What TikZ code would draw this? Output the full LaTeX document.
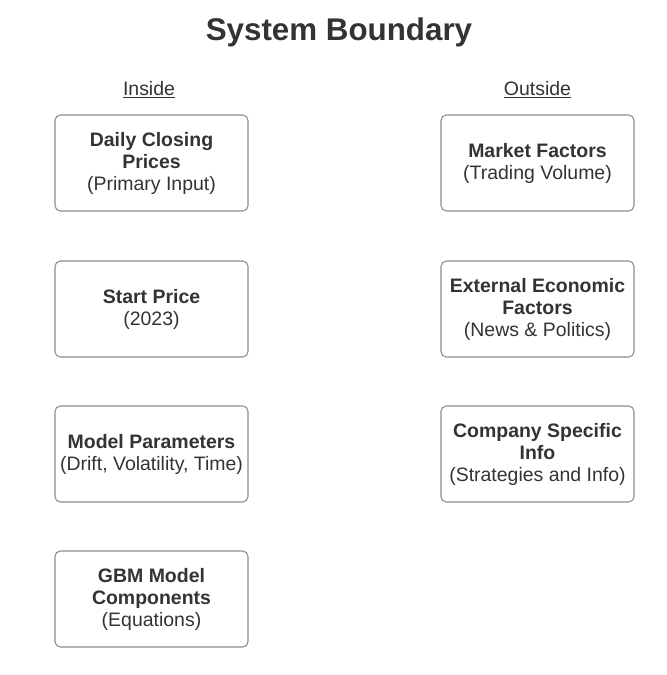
\documentclass[tikz,border=0pt]{standalone}
\usepackage{fontspec}
\setmainfont{Liberation Sans}
\usepackage{tikz}
\definecolor{ink}{HTML}{333333}
\definecolor{rim}{HTML}{8C8C8C}

\begin{document}
\begin{tikzpicture}[x=0.75pt, y=-0.75pt,
  box/.style={draw=rim, line width=0.8pt, rounded corners=4pt, text=ink,
    minimum width=144.75pt, minimum height=72pt, align=center,
    font=\fontsize{14.6}{16.5}\selectfont},
  head/.style={text=ink, font=\fontsize{14.6}{16.5}\selectfont}]
\useasboundingbox (0, 0) rectangle (667, 675);

\node[text=ink, font=\fontsize{23.5}{28}\selectfont\bfseries] (title) at (339, 32) {System Boundary};
\node[head] (inside) at (149, 90) {\underline{Inside}};
\node[head] (outside) at (537.5, 90) {\underline{Outside}};

\node[box] (closing) at (151.5, 163) {\textbf{Daily Closing}\\\textbf{Prices}\\(Primary Input)};
\node[box] (start) at (151.5, 309) {\textbf{Start Price}\\(2023)};
\node[box] (params) at (151.5, 454) {\textbf{Model Parameters}\\(Drift, Volatility, Time)};
\node[box] (gbm) at (151.5, 599) {\textbf{GBM Model}\\\textbf{Components}\\(Equations)};

\node[box] (market) at (537.5, 163) {\textbf{Market Factors}\\(Trading Volume)};
\node[box] (economic) at (537.5, 309) {\textbf{External Economic}\\\textbf{Factors}\\(News \& Politics)};
\node[box] (company) at (537.5, 454) {\textbf{Company Specific}\\\textbf{Info}\\(Strategies and Info)};
\end{tikzpicture}
\end{document}
